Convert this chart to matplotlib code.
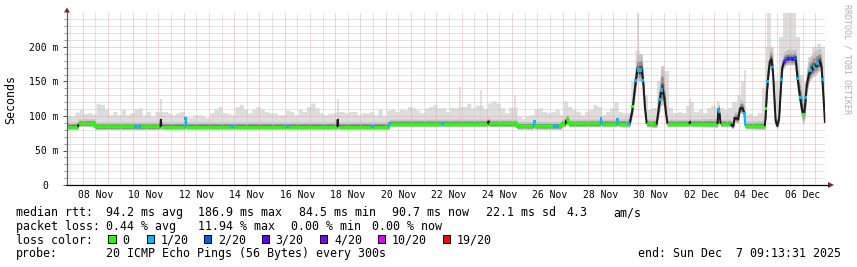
import numpy as np
import matplotlib
matplotlib.use("Agg")
import matplotlib.pyplot as plt
from matplotlib.patches import Polygon, Rectangle
from matplotlib.transforms import blended_transform_factory, ScaledTranslation

# ---------------------------------------------------------------- data
# time in days since 2025-11-07 00:00 ; graph = 30 days ending Dec 7 09:13:31
T_START = 0.3844
T_END = 30.3844

x_tick_days = [1.5, 3.5, 5.5, 7.5, 9.5, 11.5, 13.5, 15.5, 17.5, 19.5, 21.5, 23.5, 25.5, 27.5, 29.5]
x_tick_labels = ["08 Nov", "10 Nov", "12 Nov", "14 Nov", "16 Nov", "18 Nov", "20 Nov", "22 Nov",
                 "24 Nov", "26 Nov", "28 Nov", "30 Nov", "02 Dec", "04 Dec", "06 Dec"]
y_tick_ms = [0, 50, 100, 150, 200]
y_tick_labels = ["0", "50 m", "100 m", "150 m", "200 m"]

# median rtt (ms) knots, loss code of the segment starting at knot (-1 = dark core), smoke spread (ms)
med_day = [0.3844, 0.82, 0.847, 1.49, 1.492, 4.08, 4.10, 4.12, 5.07, 5.09, 5.11,
           11.08, 11.10, 11.12, 13.12, 13.13, 17.05, 17.07, 17.09, 18.18, 18.19,
           18.85, 18.87, 18.89, 19.95, 19.96, 20.12, 20.14, 20.22, 20.24,
           21.50, 21.52, 21.54, 22.16, 22.18, 22.20, 22.63,
           22.66, 22.77, 22.86, 22.95, 23.03, 23.13, 23.19, 23.26, 23.33, 23.72,
           23.82, 23.89, 23.96, 24.02, 24.09, 24.15, 25.02, 25.04, 25.06,
           26.13, 26.17, 26.21, 26.25, 26.66, 26.70, 26.76, 26.80, 26.95, 27.02, 27.12, 27.19, 27.23,
           28.00, 28.03, 28.08, 28.14, 28.20, 28.27, 28.33, 28.38, 28.43, 28.49, 28.57,
           28.63, 28.69, 28.76, 28.86, 28.99, 29.12, 29.22, 29.28, 29.36, 29.46, 29.52, 29.59,
           29.66, 29.76, 29.90, 30.05, 30.19, 30.25, 30.31, 30.3844]
med_ms = [84.5, 84.5, 89.0, 89.0, 84.5, 84.5, 95.0, 84.5, 84.5, 96.0, 84.5,
          84.5, 95.0, 84.5, 84.5, 88.5, 88.5, 93.0, 88.5, 88.5, 85.0,
          85.0, 92.0, 85.0, 85.0, 88.5, 88.5, 95.0, 95.0, 88.5,
          88.5, 97.0, 88.5, 88.5, 95.0, 88.5, 88.5,
          90, 111, 140, 167, 165, 167, 148, 111, 88.5, 88.0,
          116, 136, 138, 128, 104, 88.5, 88.5, 92, 88.5,
          88.5, 111, 104, 88.5, 88.5, 86, 86, 97, 96, 111, 111, 104, 85.5,
          85.5, 97, 131, 160, 179, 182, 160, 126, 93, 85, 97,
          136, 170, 179, 182, 183, 182, 184, 160, 136, 112, 102, 112,
          145, 162, 170, 174, 179, 170, 136, 90]
med_loss = [0, -1, 0, 0, 0, -1, -1, 0, 1, 1, 0,
            -1, -1, 0, 1, 0, -1, -1, 0, 0, 0,
            1, 1, 0, 0, 0, -1, 0, 0, 0,
            1, 1, 0, 1, 1, 0, -1,
            -1, -1, -1, -1, -1, -1, -1, -1, 0, -1,
            -1, -1, -1, -1, -1, 0, -1, -1, 0,
            -1, 1, -1, 0, -1, -1, -1, -1, -1, -1, -1, 1, 0,
            -1, -1, -1, -1, -1, -1, -1, -1, -1, -1, -1,
            -1, -1, -1, -1, -1, -1, -1, -1, -1, -1, -1, -1,
            -1, -1, -1, -1, -1, -1, -1, -1]
smoke_w = [7, 7, 7, 7, 7, 7, 7, 7, 7, 7, 7,
           7, 7, 7, 7, 7, 7, 7, 7, 7, 7,
           7, 7, 7, 7, 7, 7, 7, 7, 7,
           7, 7, 7, 7, 7, 7, 8,
           10, 18, 24, 24, 24, 24, 22, 14, 7, 8,
           25, 35, 35, 30, 15, 7, 7, 7, 7,
           8, 10, 8, 7, 7, 7, 8, 10, 10, 12, 12, 10, 7,
           8, 12, 18, 20, 20, 18, 18, 15, 10, 8, 12,
           18, 15, 14, 14, 14, 14, 14, 20, 25, 28, 25, 28,
           25, 22, 22, 22, 20, 18, 15, 8]

# outer smoke (highest ping) per 4-hour block, ms
smoke_top = [99, 99, 105, 109, 103, 104, 102, 118, 116, 109,
             101, 106, 101, 109, 101, 104, 109, 111, 101, 106,
             99, 106, 106, 106, 104, 101, 104, 106, 99, 97,
             101, 101, 99, 97, 104, 109, 113, 104, 103, 101,
             113, 116, 109, 104, 109, 113, 109, 106, 104, 104,
             101, 101, 108, 106, 101, 109, 106, 113, 118, 111,
             104, 101, 103, 104, 106, 106, 104, 106, 106, 101,
             104, 104, 106, 101, 109, 99, 108, 109, 106, 109,
             108, 113, 111, 108, 104, 111, 113, 116, 111, 111,
             106, 112, 111, 113, 113, 118, 111, 115, 115, 110,
             118, 121, 118, 111, 104, 112, 112, 99, 96, 99,
             101, 109, 111, 106, 104, 106, 109, 101, 121, 113,
             109, 106, 101, 106, 109, 116, 113, 101, 106, 111,
             120, 106, 104, 104, 150, 195, 190, 130, 108, 112,
             150, 172, 165, 112, 104, 106, 104, 115, 120, 106,
             108, 104, 112, 115, 112, 111, 108, 111, 120, 130,
             150, 101, 103, 100, 104, 140, 200, 200, 150, 215,
             249, 249, 249, 215, 160, 150, 185, 200, 205, 200]

# thin isolated smoke spikes
spike_day = [4.10, 11.10, 15.94, 16.78, 18.10, 22.97, 25.04, 26.16, 27.20, 28.12, 28.22]
spike_top = [124, 124, 142, 138, 131, 249, 124, 122, 166, 249, 249]

# coloured loss markers on the median
dot_day = [3.11, 3.25, 5.09, 6.94, 9.12, 12.48, 13.13, 15.25, 18.87, 19.66,
           19.80, 21.52, 22.18, 22.60, 22.78, 22.90, 23.00, 23.10, 23.18, 23.85,
           23.92, 26.19, 27.19, 28.05, 28.12, 28.30, 28.66, 28.78, 28.86, 28.95,
           29.00, 29.08, 29.22, 29.30, 29.40, 29.52, 29.62, 29.82, 29.95, 30.10,
           30.28]
dot_lvl = [1, 1, 1, 1, 1, 1, 1, 1, 1, 1,
           1, 1, 1, 1, 0, 1, 1, 1, 1, 1,
           1, 1, 1, 0, 1, 1, 1, 4, 2, 3,
           2, 3, 2, 1, 1, 0, 1, 1, 1, 1,
           1]

loss_labels = ["0", "1/20", "2/20", "3/20", "4/20", "10/20", "19/20"]
loss_colors = ["#26ff00", "#00b8ff", "#0059ff", "#5e00ff", "#7e00ff", "#dd00ff", "#ff0000"]

legend_line1 = ["median rtt:", "94.2 ms avg", "186.9 ms max", "84.5 ms min", "90.7 ms now",
                "22.1 ms sd", "4.3", "am/s"]
legend_line2 = ["packet loss:", "0.44 % avg", "11.94 % max", "0.00 % min", "0.00 % now"]
probe_text = "20 ICMP Echo Pings (56 Bytes) every 300s"
end_text = "end: Sun Dec  7 09:13:31 2025"

# ---------------------------------------------------------------- layout
W, H = 857, 267
MONO = "DejaVu Sans Mono"
LEG_FS = 8.4
AX_FS = 7.0
plt.rcParams["lines.scale_dashes"] = False

fig = plt.figure(figsize=(W / 100, H / 100), dpi=100)
fig.patch.set_facecolor("white")

AX_L, AX_R, AX_T, AX_B = 67, 825, 12.5, 185
ax = fig.add_axes([AX_L / W, 1 - AX_B / H, (AX_R - AX_L) / W, (AX_B - AX_T) / H])
ax.set_facecolor("white")
ax.axis("off")

ov = fig.add_axes([0, 0, 1, 1])
ov.set_xlim(0, W)
ov.set_ylim(H, 0)
ov.axis("off")
ov.patch.set_alpha(0)
ov.set_zorder(10)

med_day_a = np.array(med_day)
med_ms_a = np.array(med_ms)
w_a = np.array(smoke_w, dtype=float)

# outer (light) smoke
th = T_START + np.arange(len(smoke_top) * 4 + 1) / 24.0
top_h = np.append(np.repeat(np.array(smoke_top, dtype=float), 4), smoke_top[-1])
low_h = np.interp(th, med_day_a, med_ms_a) - 2
ax.fill_between(th, low_h, top_h, where=top_h > low_h, step="post",
                color="#dddddd", lw=0, zorder=1)
sp_low = np.interp(spike_day, med_day_a, med_ms_a)
ax.vlines(spike_day, sp_low, spike_top, colors="#d6d6d6", lw=1.1, zorder=1)

# inner smoke bands
for f, c in [(1.0, "#c4c4c4"), (0.6, "#8c8c8c"), (0.3, "#4a4a4a")]:
    ax.fill_between(med_day_a, med_ms_a - 0.6 * f * w_a, med_ms_a + f * w_a,
                    color=c, lw=0, zorder=2)

# grid (dotted 1px on / 1px off, snapped)
DOT = (0, (0.72, 0.72))
maj_days = [d for d in range(1, 31) if T_START <= d <= T_END]
min_days = [d + 0.5 for d in range(0, 31) if T_START <= d + 0.5 <= T_END]
minor_ms = [v for v in range(10, 250, 10) if v % 50 != 0]
for d in min_days:
    ax.plot([d, d], [0, 250], color="#c8c8c8", lw=0.72, linestyle=DOT, snap=True, zorder=3)
for v in minor_ms:
    ax.plot([T_START, T_END], [v, v], color="#c8c8c8", lw=0.72, linestyle=DOT, snap=True, zorder=3)
for d in maj_days:
    ax.plot([d, d], [0, 250], color="#f0a8a8", lw=0.72, linestyle=DOT, snap=True, zorder=3)
for v in y_tick_ms[1:]:
    ax.plot([T_START, T_END], [v, v], color="#f0a8a8", lw=0.72, linestyle=DOT, snap=True, zorder=3)

# median line, coloured by loss
code_color = {-1: "#1c1c1c", 0: loss_colors[0], 1: loss_colors[1]}
code_lw = {-1: 1.45, 0: 2.2, 1: 1.45}
i = 0
n = len(med_day)
while i < n - 1:
    j = i
    while j + 1 < n - 1 and med_loss[j + 1] == med_loss[i]:
        j += 1
    xs = med_day_a[i:j + 2]
    ys = med_ms_a[i:j + 2]
    ax.plot(xs, ys, color=code_color[med_loss[i]], lw=code_lw[med_loss[i]],
            solid_joinstyle="miter", solid_capstyle="butt", zorder=4)
    i = j + 1

dot_y = np.interp(dot_day, med_day_a, med_ms_a)
ax.scatter(dot_day, dot_y, c=[loss_colors[k] for k in dot_lvl], marker="s",
           s=4.5, linewidths=0, zorder=5)

ax.set_xlim(T_START, T_END)
ax.set_ylim(0, 250)

# axes lines, arrows, ticks
bt_y = blended_transform_factory(ov.transData, ax.transData)
bt_x = blended_transform_factory(ax.transData, ov.transData)
ax.hlines(minor_ms, 64.5, 67, transform=bt_y, colors="#9a9a9a", lw=0.72, clip_on=False, zorder=6)
ax.hlines(y_tick_ms, 63.5, 67, transform=bt_y, colors="#555555", lw=0.72, clip_on=False, zorder=6)
ov.plot([67, 67], [185, 11], color="#606060", lw=0.9, solid_capstyle="butt")
ov.plot([66.5, 829], [185, 185], color="#000000", lw=0.9, solid_capstyle="butt")
ov.add_patch(Polygon([(64, 12.5), (70, 12.5), (67, 7.5)], closed=True, color="#8b2020", lw=0))
ov.add_patch(Polygon([(828, 182), (828, 188), (834, 185)], closed=True, color="#8b2020", lw=0))

# tick labels
off = ScaledTranslation(0, -3.6 / 100, fig.dpi_scale_trans)
for v, lab in zip(y_tick_ms, y_tick_labels):
    xr = 47.8 if lab == "0" else 58.8
    ax.text(xr, v, lab, transform=bt_y + off, ha="right", va="baseline",
            family=MONO, fontsize=AX_FS, color="black", clip_on=False)
for d, lab in zip(x_tick_days, x_tick_labels):
    ax.text(d, 198.3, lab, transform=bt_x, ha="center", va="baseline",
            family=MONO, fontsize=AX_FS, color="black", clip_on=False)

# y-axis title and rrdtool signature
ov.text(11, 99, "Seconds", rotation=90, ha="center", va="center",
        family=MONO, fontsize=LEG_FS, color="black")
ov.text(847, 4.5, "RRDTOOL / TOBI OETIKER", rotation=270, ha="center", va="top",
        family=MONO, fontsize=6.0, color="#b0b0b0")

# legend
l1_x = [16, 106.5, 198.5, 299.2, 392.5, 485.9, 566, 613.7]
for x, s in zip(l1_x, legend_line1):
    ov.text(x, 216, s, ha="left", va="baseline", family=MONO, fontsize=LEG_FS)
l2_x = [16, 106.5, 198.5, 291, 372]
for x, s in zip(l2_x, legend_line2):
    ov.text(x, 229.7, s, ha="left", va="baseline", family=MONO, fontsize=LEG_FS)
ov.text(16, 243.6, "loss color:", ha="left", va="baseline", family=MONO, fontsize=LEG_FS)
box_x = [108.3, 146.7, 204, 261.7, 320, 377.7, 442.7]
for bx, c, lab in zip(box_x, loss_colors, loss_labels):
    ov.add_patch(Rectangle((bx, 235.3), 7.3, 8.0, facecolor=c, edgecolor="black", lw=0.72))
    ov.text(bx + 14, 243.6, lab, ha="left", va="baseline", family=MONO, fontsize=LEG_FS)
ov.text(16, 257.2, "probe:", ha="left", va="baseline", family=MONO, fontsize=LEG_FS)
ov.text(106.5, 257.2, probe_text, ha="left", va="baseline", family=MONO, fontsize=LEG_FS)
ov.text(841, 257.2, end_text, ha="right", va="baseline", family=MONO, fontsize=LEG_FS)

fig.savefig("out.png", dpi=100, facecolor="white")
